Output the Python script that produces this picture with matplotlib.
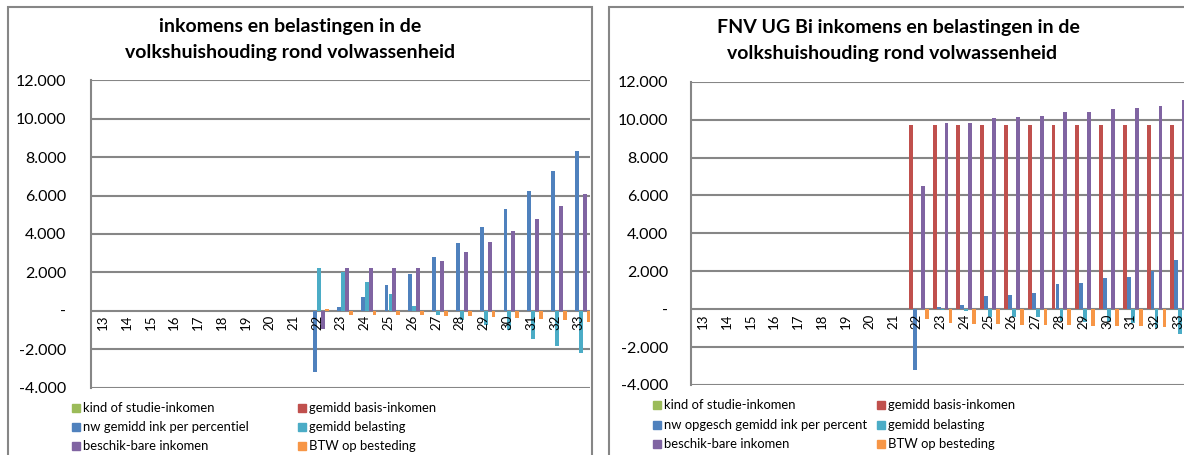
import matplotlib

matplotlib.use("Agg")
import matplotlib.pyplot as plt
import numpy as np
from matplotlib.patches import Rectangle

plt.rcParams["font.family"] = ["Lato", "DejaVu Sans"]

# leeftijden op de x-as
categories = list(range(13, 34))

series_names = ["kind of studie-inkomen", "gemidd basis-inkomen", "nw gemidd ink per percentiel",
                "gemidd belasting", "beschik-bare inkomen", "BTW op besteding"]
series_names_right = ["kind of studie-inkomen", "gemidd basis-inkomen", "nw opgesch gemidd ink per percent",
                      "gemidd belasting", "beschik-bare inkomen", "BTW op besteding"]
colors = ["#9BBB59", "#C0504D", "#4F81BD", "#4BACC6", "#8064A2", "#F79646"]

zeros = [0] * 9

# linker grafiek
left_kind = zeros + [0] * 12
left_basis = zeros + [0] * 12
left_nw = zeros + [-3200, 210, 730, 1340, 1930, 2780, 3525, 4340, 5280, 6235, 7275, 8330]
left_belasting = zeros + [2240, 2020, 1500, 890, 260, -210, -480, -750, -1000, -1470, -1820, -2200]
left_beschik = zeros + [-970, 2230, 2230, 2230, 2230, 2590, 3060, 3580, 4150, 4760, 5435, 6090]
left_btw = zeros + [80, -210, -210, -210, -210, -260, -280, -310, -365, -430, -490, -570]

# rechter grafiek (FNV UG Bi)
right_kind = zeros + [0] * 12
right_basis = zeros + [9700] * 12
right_nw = zeros + [-3220, 90, 195, 720, 740, 865, 1340, 1355, 1620, 1690, 1990, 2605]
right_belasting = zeros + [0, -40, -70, -390, -400, -430, -650, -690, -700, -720, -970, -1300]
right_beschik = zeros + [6510, 9800, 9835, 10080, 10115, 10170, 10400, 10415, 10540, 10590, 10710, 11050]
right_btw = zeros + [-510, -740, -770, -800, -810, -820, -850, -870, -890, -900, -920, -950]

y_ticks = [-4000, -2000, 0, 2000, 4000, 6000, 8000, 10000, 12000]
y_tick_labels = ["-4.000", "-2.000", "-", "2.000", "4.000", "6.000", "8.000", "10.000", "12.000"]

W, H = 1184, 455
GRID = "#868686"


def px_axes(fig, x0, x1, y_top, y_bot):
    return fig.add_axes([x0 / W, 1 - y_bot / H, (x1 - x0) / W, (y_bot - y_top) / H])


def draw_panel(fig, ax, data, x_right, pad):
    x = np.array(categories)
    slot = 1 / 6
    for i, values in enumerate(data):
        ax.bar(x + (i - 2.5) * slot, values, width=slot * 0.97, color=colors[i], zorder=2)
    ax.set_xlim(12.5, x_right)
    ax.set_ylim(-4000, 12000)
    ax.set_yticks(y_ticks)
    ax.set_yticklabels(y_tick_labels, fontsize=11.5)
    ax.tick_params(axis="y", length=0, pad=pad)
    ax.set_xticks([])
    for side in ["top", "right", "bottom"]:
        ax.spines[side].set_visible(False)
    ax.spines["left"].set_color(GRID)
    ax.spines["left"].set_linewidth(1.5)
    for t in y_ticks:
        ax.axhline(t, color=GRID, lw=1.5, zorder=1)
    for c in categories:
        ax.annotate(str(c), (c, 0), xytext=(0, -3), textcoords="offset points",
                    rotation=90, ha="center", va="top", fontsize=9.5, zorder=4)


def draw_legend(fig, names, col_x, rows_y):
    order = [(0, 0), (1, 1), (2, 0), (3, 1), (4, 0), (5, 1)]
    for i, col in order:
        row = i // 2
        sx = col_x[col]
        cy = rows_y[row]
        fig.patches.append(Rectangle((sx / W, 1 - (cy + 4) / H), 8 / W, 8 / H,
                                     transform=fig.transFigure, color=colors[i]))
        fig.text((sx + 11) / W, 1 - cy / H, names[i], fontsize=9.4, va="center", ha="left")


fig = plt.figure(figsize=(W / 100, H / 100), dpi=100)

# kaders van de twee grafieken
fig.patches.append(Rectangle((8 / W, 1 - 480 / H), 584 / W, 473 / H, transform=fig.transFigure,
                             fill=False, edgecolor=GRID, lw=1.5))
fig.patches.append(Rectangle((609 / W, 1 - 480 / H), 620 / W, 473 / H, transform=fig.transFigure,
                             fill=False, edgecolor=GRID, lw=1.5))

ax_left = px_axes(fig, 91, 590, 80.5, 387.5)
draw_panel(fig, ax_left, [left_kind, left_basis, left_nw, left_belasting, left_beschik, left_btw], 33.47, 18)

ax_right = px_axes(fig, 691, 1184, 81.7, 385)
draw_panel(fig, ax_right, [right_kind, right_basis, right_nw, right_belasting, right_beschik, right_btw],
           33.24, 16.5)

title_kw = dict(fontsize=14, fontweight="bold", ha="center", va="baseline")
fig.text(290 / W, 1 - 32 / H, "inkomens en belastingen in de", **title_kw)
fig.text(290 / W, 1 - 58 / H, "volkshuishouding rond volwassenheid", **title_kw)
fig.text(898 / W, 1 - 33 / H, "FNV UG Bi inkomens en belastingen in de", **title_kw)
fig.text(892 / W, 1 - 59 / H, "volkshuishouding rond volwassenheid", **title_kw)

draw_legend(fig, series_names, [72, 298], [408, 427, 446])
draw_legend(fig, series_names_right, [653, 877], [405, 425, 444])

fig.savefig("out.png", dpi=100)
